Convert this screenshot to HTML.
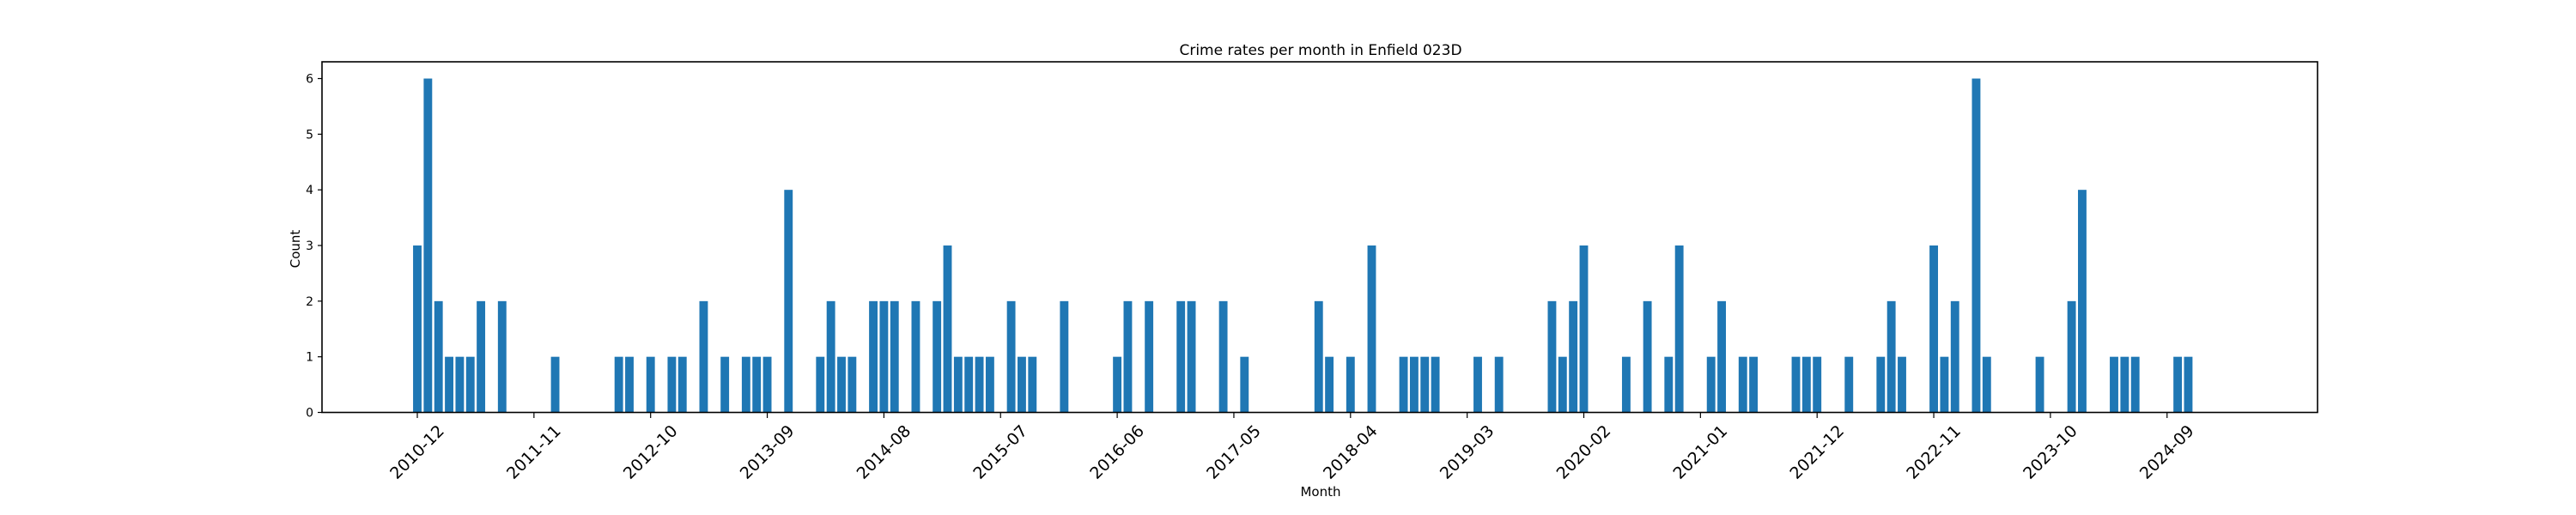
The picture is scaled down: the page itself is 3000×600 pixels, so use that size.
<!DOCTYPE html>
<html><head><meta charset="utf-8"><style>
html,body{margin:0;padding:0;background:#fff;}
svg{display:block;font-family:"DejaVu Sans","Liberation Sans",sans-serif;}
</style></head><body>
<svg id="chart" width="3000" height="600" viewBox="0 0 3000 600" xmlns="http://www.w3.org/2000/svg">
<rect width="3000" height="600" fill="#fff"/>
<text x="1538" y="64" font-size="17" text-anchor="middle" fill="#000">Crime rates per month in Enfield 023D</text>
<text x="1538" y="578" font-size="15" text-anchor="middle" fill="#000">Month</text>
<text x="0" y="0" font-size="15" text-anchor="middle" transform="translate(349,290) rotate(-90)" fill="#000">Count</text>
<g id="bars"></g>
<g id="yaxis"></g>
<g id="xaxis"></g>
<rect x="375" y="72" width="2324" height="408.5" fill="none" stroke="#000" stroke-width="1.6"/>
</svg>
<script>
// month index since 2010-12 (0) and counts
const monthIndex = [0,1,2,3,4,5,6,8,13,19,20,22,24,25,27,29,31,32,33,35,38,39,40,41,43,44,45,47,49,50,51,52,53,54,56,57,58,61,66,67,69,72,73,76,78,85,86,88,90,93,94,95,96,100,102,107,108,109,110,114,116,118,119,122,123,125,126,130,131,132,135,138,139,140,143,144,145,147,148,153,156,157,160,161,162,166,167];
const counts = [3,6,2,1,1,1,2,2,1,1,1,1,1,1,2,1,1,1,1,4,1,2,1,1,2,2,2,2,2,3,1,1,1,1,2,1,1,2,1,2,2,2,2,2,1,2,1,1,3,1,1,1,1,1,1,2,1,2,3,1,2,1,3,1,2,1,1,1,1,1,1,1,2,1,3,1,2,6,1,1,2,4,1,1,1,1,1];
const xTickLabels = ["2010-12","2011-11","2012-10","2013-09","2014-08","2015-07","2016-06","2017-05","2018-04","2019-03","2020-02","2021-01","2021-12","2022-11","2023-10","2024-09"];
const xTickMonths = [0,11,22,33,44,55,66,77,88,99,110,121,132,143,154,165];
const yTicks = [0,1,2,3,4,5,6];

const NS = "http://www.w3.org/2000/svg";
const X0 = 486, PPM = 12.35, Y0 = 480.5, PPU = 64.83;
function xScale(m){ return X0 + m*PPM; }
function yScale(v){ return Y0 - v*PPU; }
function mk(tag, attrs){ const e=document.createElementNS(NS,tag); for(const k in attrs) e.setAttribute(k,attrs[k]); return e; }

const gb = document.getElementById('bars');
monthIndex.forEach((m,i)=>{
  const bw = PPM*0.8;
  const r = mk('rect',{x:xScale(m)-bw/2, y:yScale(counts[i]), width:bw, height:counts[i]*PPU, fill:'#1f77b4'});
  
  
  gb.appendChild(r);
});

const gy = document.getElementById('yaxis');
yTicks.forEach(v=>{
  const y = yScale(v);
  const t = mk('line',{x1:370,x2:375,y1:y,y2:y,stroke:'#000','stroke-width':1.2});
  
  
  gy.appendChild(t);
  const l = mk('text',{x:365,y:y+5,'font-size':14,'text-anchor':'end',fill:'#000'});
  l.textContent = v;
  
  
  gy.appendChild(l);
});

const gx = document.getElementById('xaxis');
xTickMonths.forEach((m,i)=>{
  const x = xScale(m);
  const t = mk('line',{x1:x,x2:x,y1:480.5,y2:487,stroke:'#000','stroke-width':1.2});
  
  
  gx.appendChild(t);
  const l = mk('text',{x:0,y:0,'font-size':19,'text-anchor':'middle','dominant-baseline':'central',fill:'#000',transform:'translate('+x+',527) rotate(-45)'});
  l.textContent = xTickLabels[i];
  
  
  gx.appendChild(l);
});
</script>
</body></html>
